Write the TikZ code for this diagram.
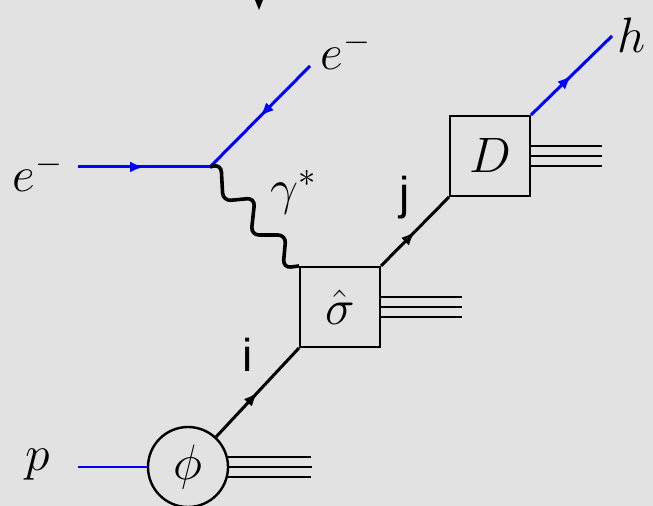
\documentclass[tikz,border=0pt]{standalone}
\usepackage{fontspec}
\newfontfamily\labelfont{Liberation Sans}
\usetikzlibrary{arrows.meta, decorations.markings}
\definecolor{paperGray}{RGB}{226,226,226}
\definecolor{leptonBlue}{RGB}{0,0,255}

\begin{document}
\begin{tikzpicture}[
    x=0.5pt, y=-0.5pt,
    every node/.style={font=\fontsize{24}{28}\selectfont},
    blob/.style={rectangle, draw, line width=1pt, minimum size=40pt, inner sep=0pt},
    pdfblob/.style={circle, draw, line width=1.2pt, minimum size=40pt, inner sep=0pt},
    lepton/.style={leptonBlue, line width=1.5pt},
    parton/.style={black, line width=1.5pt},
    remnant/.style={black, line width=1.2pt},
    photon/.style={black, line width=1.8pt, rounded corners=4pt},
    midarrow/.style={postaction={decorate},
                 decoration={markings, mark=at position 0.5 with {\arrow{Latex[length=7pt,width=5.5pt]}}}},
    plabel/.style={font=\labelfont\fontsize{23}{26}\selectfont},
  ]
    % background
    \path[use as bounding box, fill=paperGray] (0,0) rectangle (653,506);
    \fill (255,0) -- (263,0) -- (259,10) -- cycle;

    % blobs
    \node[blob] (sig) at (340,307) {$\hat\sigma$};
    \node[blob] (D) at (490,156) {$D$};
    \node[pdfblob] (phi) at (188,467) {$\phi$};

    % external points
    \coordinate (v) at (210,167);
    \coordinate (ein) at (78,167);
    \coordinate (eout) at (310,66);
    \coordinate (hend) at (612,36);
    \coordinate (pin) at (78,467);

    % leptons
    \draw[lepton, midarrow] (ein) -- (v);
    \draw[lepton, midarrow] (eout) -- (v);
    \draw[lepton, midarrow] (D.north east) -- (hend);
    \draw[leptonBlue, line width=1pt] (pin) -- (phi);

    % virtual photon
    \draw[photon] (v) -- ++(11,-3) -- ++(2,37) -- ++(32,-3) -- ++(-4,37)
      -- ++(35,0) -- ++(-3,33) -- (sig.north west);

    % partons
    \draw[parton, midarrow] (phi) -- (sig.south west);
    \draw[parton, midarrow] (sig.north east) -- (D.south west);

    % remnants
    \foreach \dy in {-5pt,0pt,5pt} {
      \draw[remnant] ([yshift=\dy]sig.east) -- ++(81,0);
      \draw[remnant] ([yshift=\dy]D.east) -- ++(71,0);
    }
    \foreach \a in {14.5,0,-14.5}
      \draw[remnant] (phi.\a) -- ++(83,0);

    % labels
    \node (lein) at (38,172) {$e^-$};
    \node (leout) at (346,50) {$e^-$};
    \node (lh) at (632,35) {$h$};
    \node (lp) at (38,465) {$p$};
    \node (lgam) at (294,192) {$\gamma^*$};
    \node[plabel] (li) at (248,355) {i};
    \node[plabel] (lj) at (405,198) {j};
  \end{tikzpicture}
\end{document}
